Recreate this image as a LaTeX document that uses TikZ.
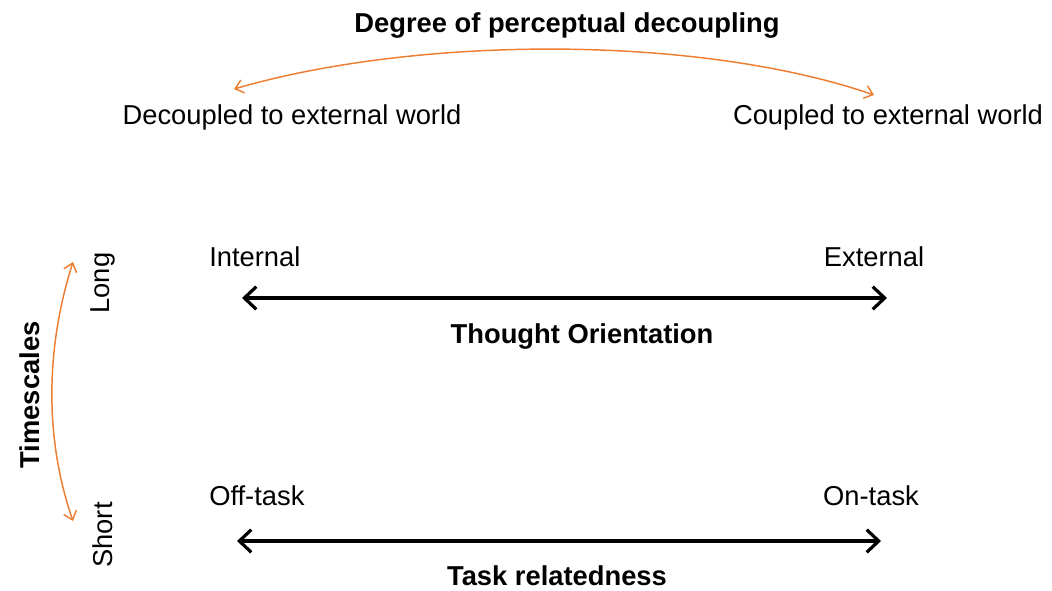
\documentclass[tikz,border=0pt]{standalone}
\usepackage{fontspec}
\setmainfont{Liberation Sans}
\usetikzlibrary{arrows.meta}
\definecolor{orng}{HTML}{ED7D31}
\begin{document}
\begin{tikzpicture}[x=0.75pt,y=-0.75pt,
  lbl/.style={font=\fontsize{20.5}{24}\selectfont, inner sep=0pt},
  ttl/.style={font=\fontsize{20.5}{24}\selectfont\bfseries, inner sep=0pt},
  bigarrow/.style={line width=3pt, {Straight Barb[length=9pt,width=17pt,line width=2.4pt]}-{Straight Barb[length=9pt,width=17pt,line width=2.4pt]}},
  orarrow/.style={draw=orng, line width=1.1pt, {Straight Barb[length=6pt,width=10pt]}-{Straight Barb[length=6pt,width=10pt]}}]
\useasboundingbox (0,0) rectangle (1052,590);
% top
\node[ttl] (deg) at (567,25) {Degree of perceptual decoupling};
\node[lbl] (dec) at (292,117) {Decoupled to external world};
\node[lbl] (cou) at (888,117) {Coupled to external world};
\coordinate (dl) at (234,89);
\coordinate (dr) at (874,95);
\draw[orarrow] (dl) .. controls (420,35) and (700,35) .. (dr);
% thought orientation
\node[lbl, anchor=west] (int) at (209,257) {Internal};
\node[lbl] (ext) at (874,257) {External};
\coordinate (tl) at (242,298);
\coordinate (tr) at (887,298);
\draw[bigarrow] (tl) -- (tr);
\node[ttl] (tho) at (582,336) {Thought Orientation};
% task
\node[lbl, anchor=west] (off) at (209,496) {Off-task};
\node[lbl] (on) at (871,496) {On-task};
\coordinate (kl) at (237,541);
\coordinate (kr) at (881,541);
\draw[bigarrow] (kl) -- (kr);
\node[ttl] (tas) at (557,576) {Task relatedness};
% timescales
\node[lbl, rotate=90] (lng) at (103,283) {Long};
\node[lbl, rotate=90] (sht) at (103,535) {Short};
\node[ttl, rotate=90] (tim) at (30,395) {Timescales};
\coordinate (vt) at (73,262);
\coordinate (vb) at (73,521);
\draw[orarrow] (vt) .. controls (45,350) and (45,440) .. (vb);
\end{tikzpicture}
\end{document}
